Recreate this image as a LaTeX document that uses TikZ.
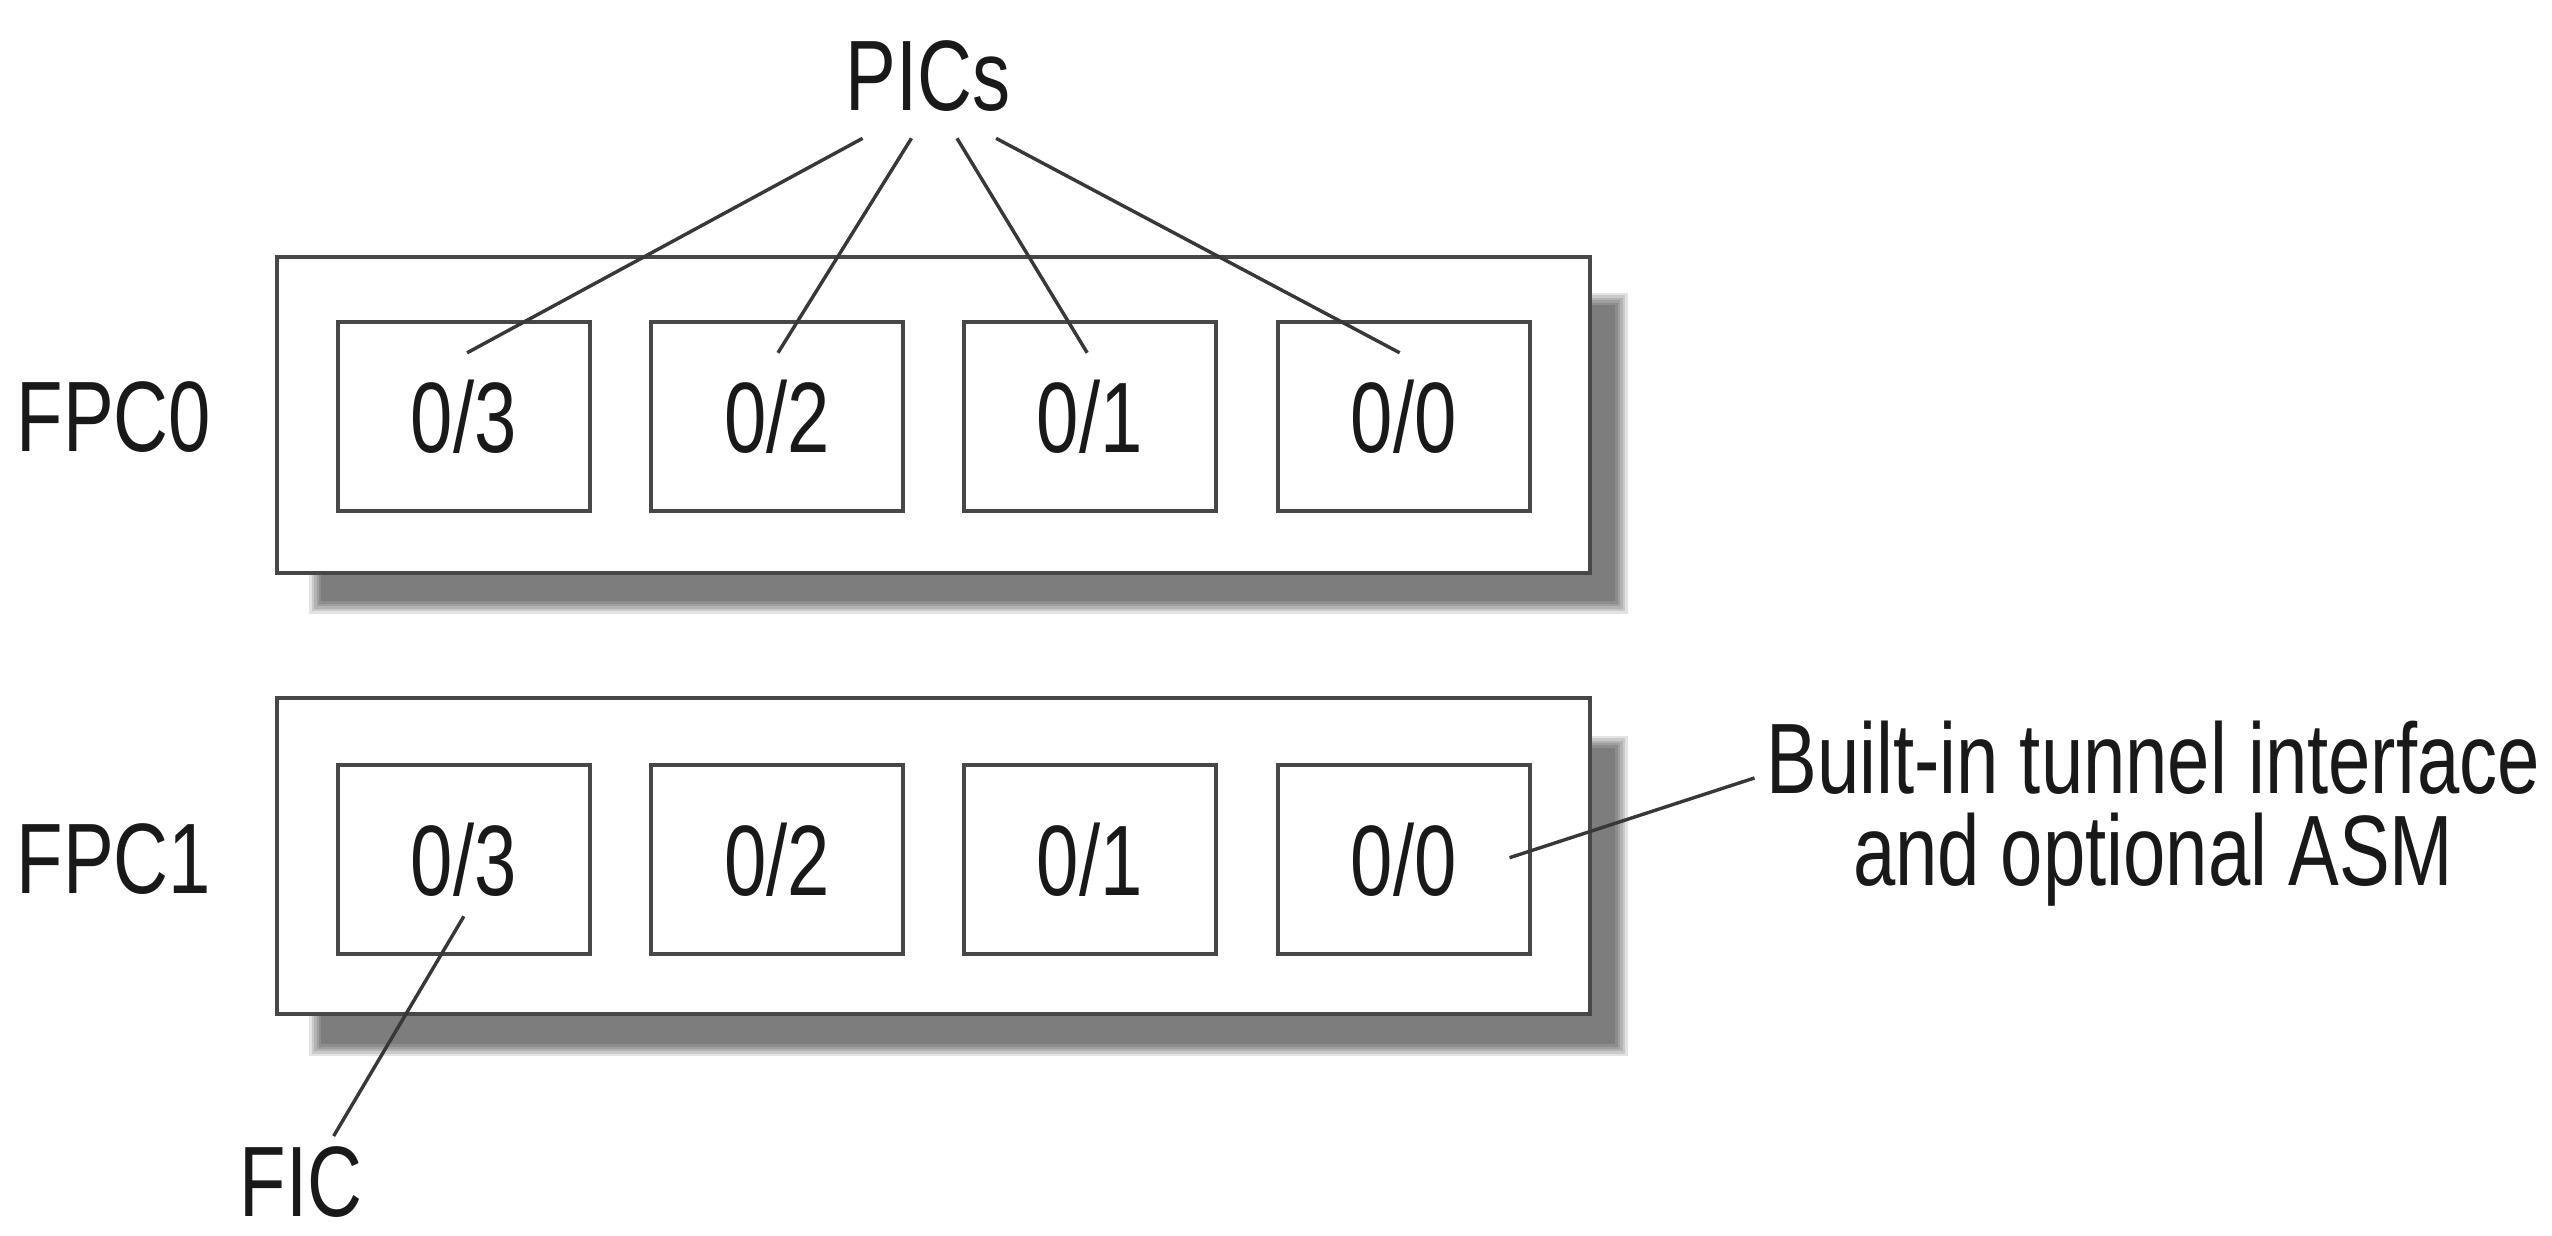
\documentclass[tikz,border=0pt]{standalone}
\usepackage{fontspec}
\setmainfont{Liberation Sans}[FakeStretch=0.76]
\usetikzlibrary{calc}
\begin{document}
\begin{tikzpicture}[x=0.02cm,y=-0.02cm,
  lbl/.style={font=\fontsize{35}{32}\selectfont, inner sep=0pt, text=black!90},
  outerbox/.style={draw=black!72, line width=1.4pt, fill=white, minimum width=16.14cm, minimum height=3.88cm, inner sep=0pt},
  picbox/.style={draw=black!72, line width=1.4pt, fill=white, minimum width=3.1cm, minimum height=2.32cm, inner sep=0pt, font=\fontsize{35}{32}\selectfont, text=black!90},
  leader/.style={draw=black!78, line width=1.2pt}]
\useasboundingbox (0,0) rectangle (1568,759);
\fill[white] (0,0) rectangle (1568,759);
% shadows
\foreach \yy in {0,272}{
  \foreach \i in {0,...,5}{
    \fill[black, opacity=0.11] ({190+\i*1.5},{180+\yy+\i*1.5}) rectangle ({1000-\i*1.5},{377+\yy-\i*1.5});
  }
}
% outer boxes
\node[outerbox] (fpc0box) at (573.5,255) {};
\node[outerbox] (fpc1box) at (573.5,526) {};
% inner boxes
\node[picbox] (a3) at (285,256) {0/3};
\node[picbox] (a2) at (477.5,256) {0/2};
\node[picbox] (a1) at (669.5,256) {0/1};
\node[picbox] (a0) at (862.5,256) {0/0};
\node[picbox] (b3) at (285,528) {0/3};
\node[picbox] (b2) at (477.5,528) {0/2};
\node[picbox] (b1) at (669.5,528) {0/1};
\node[picbox] (b0) at (862.5,528) {0/0};
% labels
\node[lbl] (fpc0) at (70,256) {FPC0};
\node[lbl] (fpc1) at (70,528) {FPC1};
\node[lbl] (pics) at (570,47) {PICs};
\node[lbl] (fic) at (185,726) {FIC};
\node[lbl, align=center] (bti) at (1323,500) {Built-in tunnel interface\\and optional ASM};
% leader ends
\coordinate (p3) at (530,85);
\coordinate (p2) at (560,85);
\coordinate (p1) at (588,85);
\coordinate (p0) at (612,85);
\coordinate (e3) at ($(a3.north)+(2,20)$);
\coordinate (e2) at ($(a2.north)+(0.5,20)$);
\coordinate (e1) at ($(a1.north)+(-1.5,20)$);
\coordinate (e0) at ($(a0.north)+(-2.5,20)$);
\draw[leader] (p3) -- (e3);
\draw[leader] (p2) -- (e2);
\draw[leader] (p1) -- (e1);
\draw[leader] (p0) -- (e0);
\coordinate (f3) at ($(b3.center)+(0,35)$);
\coordinate (ficend) at (205,698);
\draw[leader] (f3) -- (ficend);
\coordinate (g0) at ($(b0.center)+(65,-1)$);
\coordinate (bend) at (1078,478);
\draw[leader] (g0) -- (bend);
\end{tikzpicture}
\end{document}
